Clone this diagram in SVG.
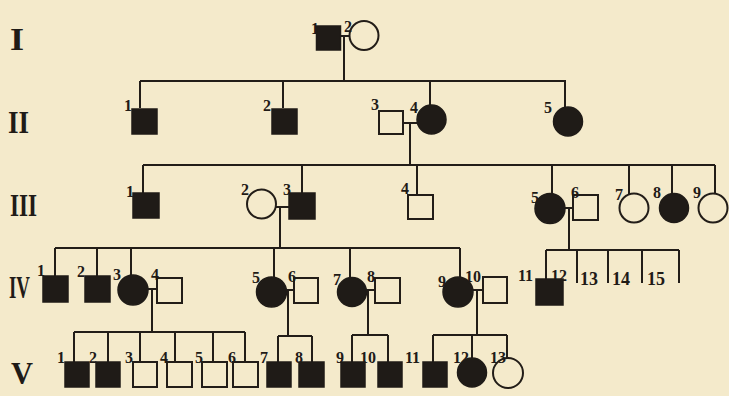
<svg xmlns="http://www.w3.org/2000/svg" width="729" height="396" viewBox="0 0 729 396">
<style>
.bg{fill:#f4eacb}
.ln{stroke:#221d18;stroke-width:2;fill:none}
.a{fill:#1f1b17;stroke:#1f1b17;stroke-width:1.5}
.u{fill:none;stroke:#221d18;stroke-width:2}
.t{font-family:"Liberation Serif",serif;font-weight:bold;font-size:16px;fill:#1f1b17}
.tb{font-size:18px}
.r{font-family:"Liberation Serif",serif;font-weight:bold;font-size:32px;fill:#1f1b17}
</style>
<rect class="bg" x="0" y="0" width="729" height="396"/>
<g id="generations">
<text class="r" x="10" y="50" textLength="14" lengthAdjust="spacingAndGlyphs">I</text>
<text class="r" x="8" y="133" textLength="21" lengthAdjust="spacingAndGlyphs">II</text>
<text class="r" x="10" y="216" textLength="27" lengthAdjust="spacingAndGlyphs">III</text>
<text class="r" transform="translate(9,298) scale(1,1.45)" x="0" y="0" style="font-size:22px" textLength="21" lengthAdjust="spacingAndGlyphs">IV</text>
<text class="r" x="11" y="384" textLength="22" lengthAdjust="spacingAndGlyphs">V</text>
</g>
<g id="connectors" class="ln">
<path d="M341 36H349M344 36V81M140 81H566M140 81V108M283 81V108M430 81V105M565 81V107"/>
<path d="M403 123H417M410 123V165M143 165H715M143 165V193M302 165V193M417 165V195M552 165V194M629 165V194M672 165V194M715 165V193"/>
<path d="M276 207H289M280 207V248M55 248H460M55 248V276M97 248V276M131 248V275M274 248V277M350 248V278M460 248V277"/>
<path d="M565 208H573M569 208V250M546 250H679M546 250V279M577 250V283M608 250V283M642 250V283M679 250V283"/>
<path d="M148 289H157M152 289V332M74 332H245M74 332V362M108 332V362M140 332V362M175 332V362M213 332V362M245 332V362"/>
<path d="M286 290H294M288 290V336M278 336H312M278 336V362M312 336V362"/>
<path d="M366 290H375M368 290V335M352 335H388M352 335V362M388 335V362"/>
<path d="M473 290H483M477 290V335M433 335H507M433 335V362M472 335V358M507 335V358"/>
</g>
<g id="I-1"><rect class="a" x="316.5" y="26" width="24" height="24"/><text class="t" x="311" y="34">1</text></g>
<g id="I-2"><circle class="u" cx="364" cy="35.5" r="14.5"/><text class="t" x="344" y="32">2</text></g>
<g id="II-1"><rect class="a" x="132" y="109" width="25" height="25"/><text class="t" x="124" y="111">1</text></g>
<g id="II-2"><rect class="a" x="272" y="109" width="25" height="25"/><text class="t" x="263" y="111">2</text></g>
<g id="II-3"><rect class="u" x="379" y="111" width="24" height="23"/><text class="t" x="371" y="110">3</text></g>
<g id="II-4"><circle class="a" cx="431.5" cy="119.5" r="14.5"/><text class="t" x="410" y="113">4</text></g>
<g id="II-5"><circle class="a" cx="568" cy="121.5" r="14.5"/><text class="t" x="544" y="113">5</text></g>
<g id="III-1"><rect class="a" x="133" y="193" width="26" height="25"/><text class="t" x="126" y="197">1</text></g>
<g id="III-2"><circle class="u" cx="261.5" cy="204" r="14.5"/><text class="t" x="241" y="195">2</text></g>
<g id="III-3"><rect class="a" x="289" y="193" width="26" height="26"/><text class="t" x="283" y="195">3</text></g>
<g id="III-4"><rect class="u" x="408" y="195" width="25" height="24"/><text class="t" x="401" y="194">4</text></g>
<g id="III-5"><circle class="a" cx="550" cy="208.5" r="15"/><text class="t" x="531" y="203">5</text></g>
<g id="III-6"><rect class="u" x="573" y="195" width="25" height="25"/><text class="t" x="571" y="198">6</text></g>
<g id="III-7"><circle class="u" cx="634" cy="208" r="14.5"/><text class="t" x="615" y="200">7</text></g>
<g id="III-8"><circle class="a" cx="674" cy="208" r="14.5"/><text class="t" x="653" y="198">8</text></g>
<g id="III-9"><circle class="u" cx="713" cy="208" r="14.5"/><text class="t" x="693" y="198">9</text></g>
<g id="IV-1"><rect class="a" x="43" y="276" width="25" height="26"/><text class="t" x="37" y="276">1</text></g>
<g id="IV-2"><rect class="a" x="85" y="276" width="25" height="26"/><text class="t" x="77" y="277">2</text></g>
<g id="IV-3"><circle class="a" cx="133" cy="290" r="15"/><text class="t" x="113" y="280">3</text></g>
<g id="IV-4"><rect class="u" x="157" y="278" width="25" height="25"/><text class="t" x="151" y="280">4</text></g>
<g id="IV-5"><circle class="a" cx="271.5" cy="292" r="15"/><text class="t" x="252" y="283">5</text></g>
<g id="IV-6"><rect class="u" x="294" y="278" width="24" height="25"/><text class="t" x="288" y="282">6</text></g>
<g id="IV-7"><circle class="a" cx="352" cy="292" r="14.5"/><text class="t" x="333" y="285">7</text></g>
<g id="IV-8"><rect class="u" x="375" y="278" width="25" height="25"/><text class="t" x="367" y="282">8</text></g>
<g id="IV-9"><circle class="a" cx="458" cy="292" r="15"/><text class="t" x="438" y="287">9</text></g>
<g id="IV-10"><rect class="u" x="483" y="277" width="24" height="26"/><text class="t" x="465" y="282">10</text></g>
<g id="IV-11"><text class="t" x="518" y="281">11</text></g>
<g id="IV-12"><rect class="a" x="536" y="279" width="27" height="26"/><text class="t" x="551" y="281">12</text></g>
<g id="IV-13"><text class="t tb" x="580" y="285">13</text></g>
<g id="IV-14"><text class="t tb" x="612" y="285">14</text></g>
<g id="IV-15"><text class="t tb" x="647" y="285">15</text></g>
<g id="V-1"><rect class="a" x="65" y="362" width="24" height="25"/><text class="t" x="57" y="363">1</text></g>
<g id="V-2"><rect class="a" x="96" y="362" width="24" height="25"/><text class="t" x="89" y="363">2</text></g>
<g id="V-3"><rect class="u" x="133" y="362" width="24" height="25"/><text class="t" x="125" y="363">3</text></g>
<g id="V-4"><rect class="u" x="167" y="362" width="25" height="25"/><text class="t" x="160" y="363">4</text></g>
<g id="V-5"><rect class="u" x="202" y="362" width="25" height="25"/><text class="t" x="195" y="363">5</text></g>
<g id="V-6"><rect class="u" x="233" y="362" width="25" height="25"/><text class="t" x="228" y="363">6</text></g>
<g id="V-7"><rect class="a" x="267" y="362" width="24" height="25"/><text class="t" x="260" y="363">7</text></g>
<g id="V-8"><rect class="a" x="299" y="362" width="25" height="25"/><text class="t" x="295" y="363">8</text></g>
<g id="V-9"><rect class="a" x="341" y="362" width="24" height="25"/><text class="t" x="336" y="363">9</text></g>
<g id="V-10"><rect class="a" x="378" y="362" width="24" height="25"/><text class="t" x="360" y="363">10</text></g>
<g id="V-11"><rect class="a" x="423" y="362" width="24" height="25"/><text class="t" x="405" y="363">11</text></g>
<g id="V-12"><circle class="a" cx="472" cy="372.5" r="14.5"/><text class="t" x="453" y="363">12</text></g>
<g id="V-13"><circle class="u" cx="508" cy="373" r="15"/><text class="t" x="490" y="363">13</text></g>
</svg>
